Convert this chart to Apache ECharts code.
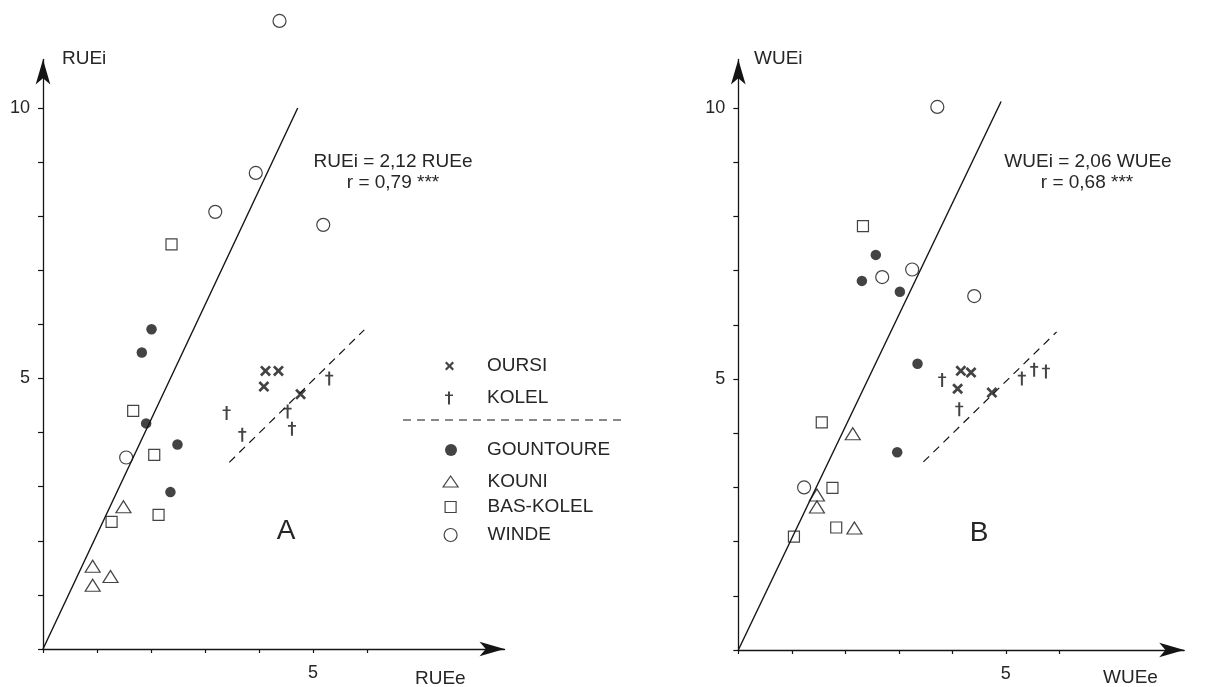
<!DOCTYPE html>
<html>
<head>
<meta charset="utf-8">
<script src="https://cdn.jsdelivr.net/npm/echarts@6/dist/echarts.min.js"></script>
<style>
  html, body { margin: 0; padding: 0; background: #fff; }
  #chart { width: 1208px; height: 687px; }
</style>
</head>
<body>
<div id="chart"></div>
<script>
// Panel A: RUEe (x) against RUEi (y), one array of [x, y] pairs per site
const rueOursi     = [[4.12, 5.14], [4.36, 5.14], [4.09, 4.85], [4.77, 4.71]];
const rueKolel     = [[3.40, 4.36], [3.69, 3.96], [4.53, 4.39], [4.61, 4.07], [5.30, 5.00]];
const rueGountoure = [[2.01, 5.91], [1.83, 5.48], [1.91, 4.17], [2.49, 3.78], [2.36, 2.90]];
const rueKouni     = [[1.49, 2.63], [0.92, 1.53], [1.25, 1.34], [0.92, 1.18]];
const rueBasKolel  = [[2.38, 7.48], [1.67, 4.40], [2.06, 3.59], [1.27, 2.35], [2.14, 2.48]];
const rueWinde     = [[4.38, 11.61], [3.94, 8.80], [3.19, 8.08], [5.19, 7.84], [1.54, 3.54]];

// Panel B: WUEe (x) against WUEi (y)
const wueOursi     = [[4.16, 5.15], [4.35, 5.12], [4.10, 4.82], [4.74, 4.75]];
const wueKolel     = [[3.81, 4.98], [4.13, 4.44], [5.30, 5.01], [5.53, 5.17], [5.75, 5.14]];
const wueGountoure = [[2.57, 7.29], [2.31, 6.81], [3.02, 6.61], [3.35, 5.28], [2.97, 3.65]];
const wueKouni     = [[2.14, 3.99], [1.47, 2.86], [1.47, 2.64], [2.17, 2.25]];
const wueBasKolel  = [[2.33, 7.82], [1.56, 4.20], [1.76, 2.99], [1.83, 2.26], [1.04, 2.09]];
const wueWinde     = [[3.72, 10.02], [2.69, 6.88], [3.25, 7.02], [4.41, 6.53], [1.23, 3.00]];

// Regression through the origin: slope, and the y value where the drawn line stops
const rueSlope = 2.12, rueFitEnd = 10.0;
const wueSlope = 2.06, wueFitEnd = 10.12;

// Dashed trend drawn through the OURSI / KOLEL group
const rueDashed = [[3.45, 3.45], [5.95, 5.90]];
const wueDashed = [[3.46, 3.47], [5.95, 5.87]];

// Tick marks and labelled tick values
const xTickValues  = [0, 1, 2, 3, 4, 5, 6];
const yTickValues  = [0, 1, 2, 3, 4, 5, 6, 7, 8, 9, 10];
const xLabelValues = [5];
const yLabelValues = [5, 10];

const siteNames = ['OURSI', 'KOLEL', 'GOUNTOURE', 'KOUNI', 'BAS-KOLEL', 'WINDE'];

// ---------------------------------------------------------------------------
const FONT = '"Liberation Sans", Arial, Helvetica, sans-serif';
const INK = '#141414';
const TEXT = '#262626';
const ARROW = [11, 25];
const TEXT_SIZE = 19;

const X_PATH = 'path://M0,3.5L3.5,0L10,6.5L16.5,0L20,3.5L13.5,10L20,16.5L16.5,20L10,13.5L3.5,20L0,16.5L6.5,10Z';
const DAGGER_PATH = 'path://M7.5,0H12.5V8H20V12H12.5V34H7.5V12H0V8H7.5Z';

const solid = { color: INK, borderWidth: 0 };
const hollow = { color: 'rgba(0,0,0,0)', borderColor: INK, borderWidth: 1.2 };

const markers = {
  'OURSI':     { symbol: X_PATH,      size: [11, 11], style: solid },
  'KOLEL':     { symbol: DAGGER_PATH, size: [8, 14],  style: solid },
  'GOUNTOURE': { symbol: 'circle',    size: 10.5,     style: solid },
  'KOUNI':     { symbol: 'triangle',  size: [15, 12], style: hollow },
  'BAS-KOLEL': { symbol: 'rect',      size: 11,       style: hollow },
  'WINDE':     { symbol: 'circle',    size: 13,       style: hollow }
};

// Pixel frame of each panel: origin, pixels per unit, and arrow tips
const panels = [
  { ox: 43,    oy: 649, ux: 54.0, uy: 54.1, tipX: 517,    tipY: 47,
    data: [rueOursi, rueKolel, rueGountoure, rueKouni, rueBasKolel, rueWinde],
    slope: rueSlope, fitEnd: rueFitEnd, dashed: rueDashed },
  { ox: 738.3, oy: 650, ux: 53.5, uy: 54.2, tipX: 1196.7, tipY: 47,
    data: [wueOursi, wueKolel, wueGountoure, wueKouni, wueBasKolel, wueWinde],
    slope: wueSlope, fitEnd: wueFitEnd, dashed: wueDashed }
];

const grids = [], xAxes = [], yAxes = [], series = [];

panels.forEach(function (p, i) {
  const top = p.tipY + ARROW[1] / 2;
  const width = p.tipX - ARROW[1] / 2 - p.ox;
  const height = p.oy - top;
  grids.push({ left: p.ox, top: top, width: width, height: height,
               containLabel: false, outerBoundsMode: 'none', show: false });

  const axisLine = { show: true, onZero: false, symbol: ['none', 'arrow'], symbolSize: ARROW,
                     lineStyle: { color: INK, width: 1.3 } };
  const label = { fontSize: 18, fontFamily: FONT, color: TEXT };

  xAxes.push({
    type: 'value', gridIndex: i, min: 0, max: width / p.ux, interval: 1,
    axisLine: axisLine,
    axisTick: { show: true, length: 4, customValues: xTickValues, lineStyle: { color: INK, width: 1.2 } },
    axisLabel: Object.assign({ show: true, margin: 15, customValues: xLabelValues }, label),
    splitLine: { show: false }
  });
  yAxes.push({
    type: 'value', gridIndex: i, min: 0, max: height / p.uy, interval: 1,
    axisLine: axisLine,
    axisTick: { show: true, length: 5, customValues: yTickValues, lineStyle: { color: INK, width: 1.2 } },
    axisLabel: Object.assign({ show: true, margin: 13, customValues: yLabelValues }, label),
    splitLine: { show: false }
  });

  // fitted regression line y = slope * x
  series.push({
    type: 'line', xAxisIndex: i, yAxisIndex: i, symbol: 'none', silent: true, z: 2,
    data: [[0, 0], [p.fitEnd / p.slope, p.fitEnd]],
    lineStyle: { color: INK, width: 1.4 }
  });
  // dashed trend
  series.push({
    type: 'line', xAxisIndex: i, yAxisIndex: i, symbol: 'none', silent: true, z: 2,
    data: p.dashed,
    lineStyle: { color: INK, width: 1.2, type: [8, 6] }
  });

  siteNames.forEach(function (name, k) {
    const m = markers[name];
    series.push({
      type: 'scatter', name: name, xAxisIndex: i, yAxisIndex: i, z: 3, clip: false,
      symbol: m.symbol, symbolSize: m.size, itemStyle: m.style,
      data: p.data[k]
    });
  });
});

// One legend block per site so each row sits at its own height
const legendRows = [
  { name: 'OURSI',     cx: 449.5, cy: 366,   w: 9,  h: 9 },
  { name: 'KOLEL',     cx: 449,   cy: 398,   w: 8,  h: 13 },
  { name: 'GOUNTOURE', cx: 451,   cy: 450,   w: 12, h: 12 },
  { name: 'KOUNI',     cx: 450,   cy: 481.5, w: 15, h: 11 },
  { name: 'BAS-KOLEL', cx: 450,   cy: 507,   w: 11, h: 11 },
  { name: 'WINDE',     cx: 450,   cy: 535,   w: 13, h: 13 }
];
const TEXT_LEFT = 487;
const legends = legendRows.map(function (r) {
  const m = markers[r.name];
  return {
    show: true, orient: 'horizontal', padding: 0, selectedMode: false,
    left: r.cx - r.w / 2, top: r.cy - TEXT_SIZE / 2,
    itemWidth: r.w, itemHeight: r.h, symbolKeepAspect: false,
    textStyle: { fontSize: TEXT_SIZE, fontFamily: FONT, color: TEXT,
                 padding: [0, 0, 0, TEXT_LEFT - r.cx - r.w / 2 - 5] },
    data: [{ name: r.name, icon: m.symbol,
             itemStyle: Object.assign({ borderColor: INK }, m.style) }]
  };
});

function txt(s, x, y, size, align) {
  return {
    type: 'text', x: x, y: y, silent: true, z: 10,
    style: { text: s, fontSize: size, fontFamily: FONT, fill: TEXT,
             align: align || 'left', verticalAlign: 'middle',
             textAlign: align || 'left', textVerticalAlign: 'middle' }
  };
}

const graphics = [
  txt('RUEi', 62, 59, TEXT_SIZE),
  txt('RUEe', 415, 678.5, TEXT_SIZE),
  txt('WUEi', 754, 59, TEXT_SIZE),
  txt('WUEe', 1103, 678, TEXT_SIZE),
  txt('RUEi = 2,12 RUEe', 393, 162, TEXT_SIZE, 'center'),
  txt('r = 0,79 ***', 393, 183, TEXT_SIZE, 'center'),
  txt('WUEi = 2,06 WUEe', 1088, 162, TEXT_SIZE, 'center'),
  txt('r = 0,68 ***', 1087, 183, TEXT_SIZE, 'center'),
  txt('A', 286, 531, 28, 'center'),
  txt('B', 979, 533, 28, 'center'),
  {
    type: 'line', silent: true, z: 10,
    shape: { x1: 403, y1: 420, x2: 622, y2: 420 },
    style: { stroke: INK, lineWidth: 1.2, lineDash: [8, 6] }
  }
];

const chart = echarts.init(document.getElementById('chart'), null, { renderer: 'canvas' });
chart.setOption({
  backgroundColor: '#ffffff',
  animation: false,
  textStyle: { fontFamily: FONT },
  grid: grids,
  xAxis: xAxes,
  yAxis: yAxes,
  legend: legends,
  graphic: graphics,
  series: series
});
</script>
</body>
</html>
